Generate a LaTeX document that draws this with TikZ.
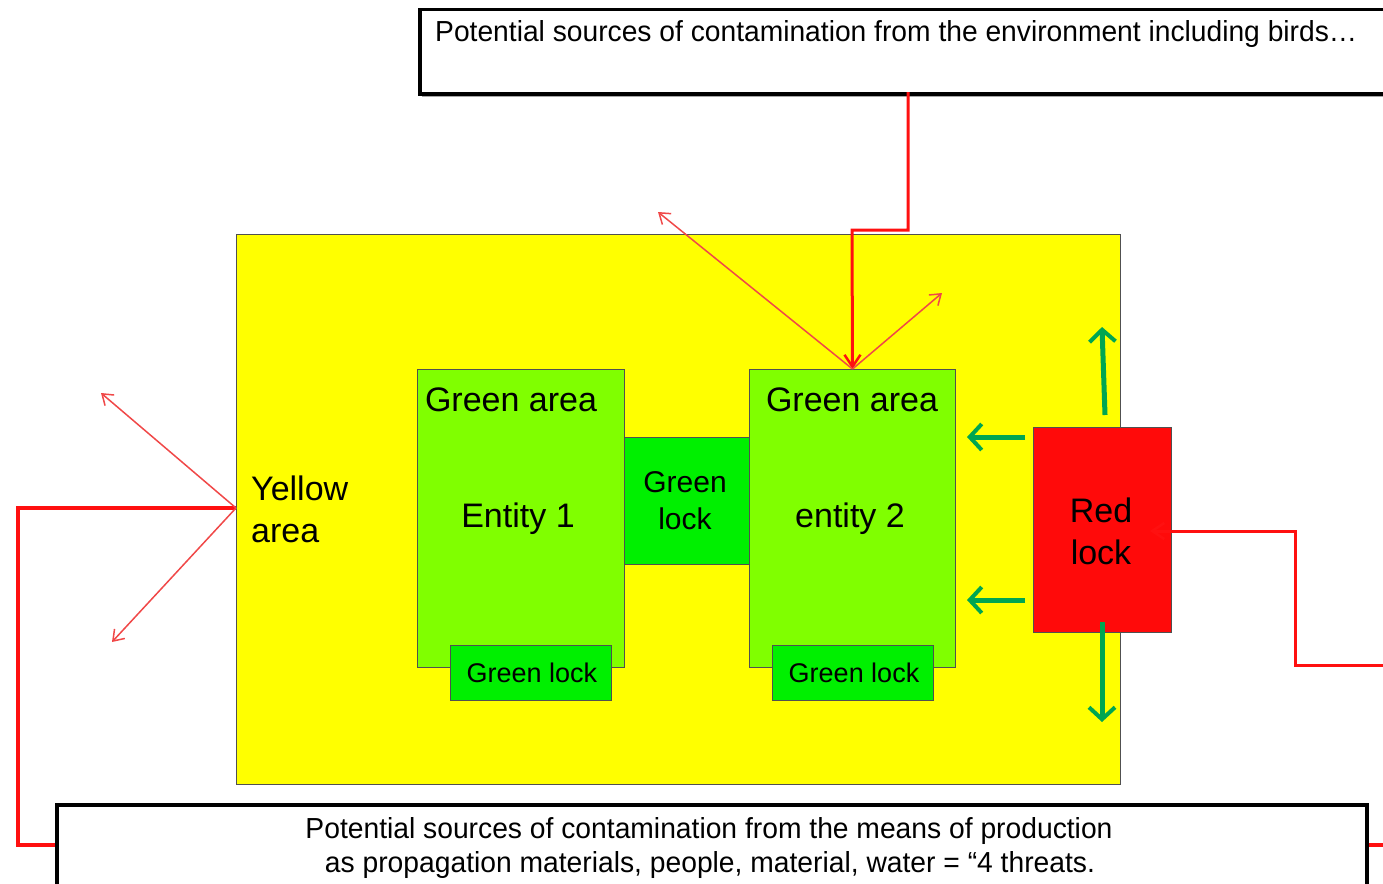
\documentclass[tikz,border=0pt]{standalone}
\usepackage{fontspec}
\setmainfont{Liberation Sans}
\usetikzlibrary{arrows.meta,calc,shadows}
\definecolor{yelfill}{HTML}{FFFF00}
\definecolor{garea}{HTML}{80FF00}
\definecolor{glock}{HTML}{00F000}
\definecolor{rlock}{HTML}{FF0A0A}
\definecolor{garrow}{HTML}{00A651}
\definecolor{rline}{HTML}{FF1010}
\definecolor{rthin}{HTML}{F04848}
\definecolor{edge}{HTML}{505050}
\begin{document}
\begin{tikzpicture}[x=1pt,y=-1pt,
  area/.style={draw=edge,line width=1pt,inner sep=0pt,anchor=north west},
  textbox/.style={draw=black,line width=3.5pt,fill=white,inner sep=0pt,anchor=north west,
    drop shadow={shadow xshift=2pt,shadow yshift=-3pt,fill=black,opacity=0.35}},
  big/.style={font=\fontsize{34}{42}\selectfont,inner sep=0pt,align=center},
  mid/.style={font=\fontsize{30}{37}\selectfont,inner sep=0pt,align=center},
  small/.style={font=\fontsize{27}{32}\selectfont,inner sep=0pt},
  redline/.style={draw=rline,line width=3.5pt},
  redarrow/.style={draw=rline,line width=3pt,-{Straight Barb[length=12pt,width=16pt,line width=2.5pt]}},
  thinarrow/.style={draw=rthin,line width=1.5pt,-{Straight Barb[length=10pt,width=14pt,line width=1.5pt]}},
  greenarrow/.style={draw=garrow,line width=5pt,-{Straight Barb[length=12pt,width=26pt,line width=4pt]}}
]
\useasboundingbox (0,0) rectangle (1383,883);
\clip (0,0) rectangle (1383,883);

% top text box
\node[textbox,minimum width=1000pt,minimum height=84pt] (env) at (418,8) {};
\node[anchor=base west,inner sep=0pt] (envtxt) at (435,42)
  {\resizebox{922pt}{21pt}{Potential sources of contamination from the environment including birds…}};

% bottom text box
\node[textbox,minimum width=1310pt,minimum height=110pt] (prod) at (55,803) {};
\node[anchor=base,inner sep=0pt] (prodtxt1) at (709,838)
  {\resizebox{807pt}{21pt}{Potential sources of contamination from the means of production}};
\node[anchor=base,inner sep=0pt] (prodtxt2) at (710,872)
  {\resizebox{770pt}{21pt}{as propagation materials, people, material, water = “4 threats.}};

% yellow area
\node[area,fill=yelfill,minimum width=884pt,minimum height=550pt] (yellow) at (236,234) {};
\node[big,align=left,anchor=west] (yeltxt) at (251,509) {Yellow\\area};

% green areas
\node[area,fill=garea,minimum width=207pt,minimum height=298pt] (ga1) at (417,369) {};
\node[area,fill=garea,minimum width=206pt,minimum height=298pt] (ga2) at (749,369) {};
\node[area,fill=glock,minimum width=125pt,minimum height=127pt] (gmid) at (624,437) {};
\node[area,fill=glock,minimum width=161pt,minimum height=55pt] (gl1) at (450,645) {};
\node[area,fill=glock,minimum width=161pt,minimum height=55pt] (gl2) at (772,645) {};

\node[big] (ga1t) at (511,400) {Green area};
\node[big] (ga1e) at (518,519) {Entity 1};
\node[big] (ga2t) at (852,400) {Green area};
\node[big] (ga2e) at (850,519) {entity 2};
\node[mid] (gmidt) at (685,501) {Green\\lock};
\node[small] (gl1t) at ($(gl1.center)+(1,0)$) {Green lock};
\node[small] (gl2t) at ($(gl2.center)+(1,0)$) {Green lock};

% red lock
\node[area,fill=rlock,minimum width=138pt,minimum height=205pt] (rl) at (1033,427) {};
\node[big] (rlt) at (1101,531) {Red\\lock};

% connectors from top box
\coordinate (envout) at (908,92);
\draw[redarrow] (envout) -- (908,230) -- (852,230) -- (ga2.north);
\draw[thinarrow] (ga2.north) -- (658,212);
\draw[thinarrow] (ga2.north) -- (942,293);

% left connectors
\coordinate (yl) at (236,508);
\draw[redline] (yl) -- (18,508) -- (18,845) -- (prod.west |- 0,845);
\draw[thinarrow] (yl) -- (101,393);
\draw[thinarrow] (yl) -- (112,642);

% right connectors
\coordinate (rright) at (1395,845);
\draw[redline] (prod.east |- 0,845) -- (rright);
\coordinate (rlin) at (1395,665);
\draw[redarrow] (rlin) -- (1295,665) -- (1295,531) -- (1150,531);

% green arrows
\draw[greenarrow] (1105,415) -- (1102,327);
\draw[greenarrow] (1025,437) -- (967,437);
\draw[greenarrow] (1025,600) -- (967,600);
\draw[greenarrow] (1102,622) -- (1102,722);
\end{tikzpicture}
\end{document}
